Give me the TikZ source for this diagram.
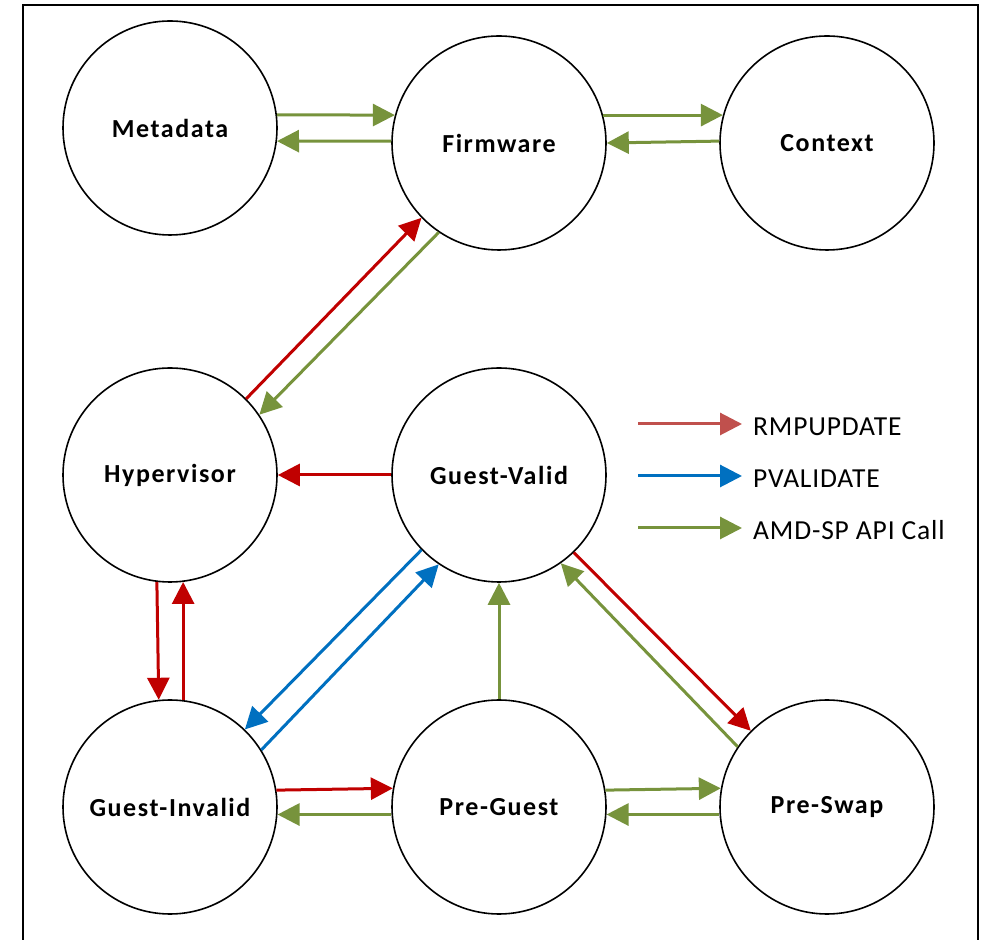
\documentclass[tikz,border=0pt]{standalone}
\usepackage{fontspec}
\setmainfont{Carlito}
\newfontfamily\statefont[LetterSpace=6]{Carlito}
\newfontfamily\legendfont[LetterSpace=3]{Carlito}
\usetikzlibrary{arrows.meta}
\definecolor{edgered}{HTML}{C00000}
\definecolor{legendred}{HTML}{C0504D}
\definecolor{apigreen}{HTML}{77933C}
\definecolor{pvblue}{HTML}{0070C0}
\begin{document}
\begin{tikzpicture}[x=1pt,y=1pt,
  state/.style={circle, draw, line width=1.6pt, minimum size=214pt, inner sep=0pt,
    font=\statefont\bfseries\fontsize{26}{30}\selectfont},
  flow/.style={line width=3pt, -{Triangle[length=22pt,width=22pt]}},
  rmp/.style={flow, color=edgered},
  rmpkey/.style={flow, color=legendred},
  pv/.style={flow, color=pvblue},
  api/.style={flow, color=apigreen},
  keytext/.style={anchor=base west, inner sep=0pt, font=\legendfont\fontsize{27.5}{32}\selectfont}
]
\useasboundingbox (0,0) rectangle (984,939);
% frame
\draw[line width=2pt] (23,-10) -- (23,934) -- (978,934) -- (978,-10);

% states
\node[state] (meta) at (170,811) {Metadata};
\node[state] (fw)   at (499,796) {Firmware};
\node[state] (ctx)  at (827,796) {Context};
\node[state] (hyp)  at (170,464) {Hypervisor};
\node[state] (gv)   at (499,464) {Guest-Valid};
\node[state] (gi)   at (170,132) {Guest-Invalid};
\node[state] (pg)   at (499,132) {Pre-Guest};
\node[state] (ps)   at (827,132) {Pre-Swap};

% top row
\draw[api] (meta.7) -- (fw.165);
\draw[api] (fw.179.5) -- (meta.-7.5);
\draw[api] (fw.15) -- (ctx.165);
\draw[api] (ctx.179.5) -- (fw.0.5);

% hypervisor and firmware
\draw[rmp] (hyp.45) -- (fw.224.5);
\draw[api] (fw.236.2) -- (hyp.34.6);

% middle row
\draw[rmp] (gv.180) -- (hyp.0);
\draw[rmp] (hyp.263.5) -- (gi.96.5);
\draw[rmp] (gi.83) -- (hyp.277);
\draw[pv] (gv.224.8) -- (gi.46);
\draw[pv] (gi.32.3) -- (gv.236.8);
\draw[rmp] (gv.314.7) -- (ps.135);
\draw[api] (ps.146) -- (gv.305.4);
\draw[api] (pg.90) -- (gv.270);

% bottom row
\draw[rmp] (gi.9.6) -- (pg.170.4);
\draw[api] (pg.184.2) -- (gi.-4.2);
\draw[api] (pg.9.6) -- (ps.170.4);
\draw[api] (ps.184.2) -- (pg.-4.2);

% legend
\coordinate (k1a) at (638,515);  \coordinate (k1b) at (742,515);
\coordinate (k2a) at (638,463);  \coordinate (k2b) at (742,463);
\coordinate (k3a) at (638,411);  \coordinate (k3b) at (742,411);
\draw[rmpkey] (k1a) -- (k1b);
\draw[pv] (k2a) -- (k2b);
\draw[api] (k3a) -- (k3b);
\node[keytext] (k1) at (753,503) {RMPUPDATE};
\node[keytext] (k2) at (753,451.5) {PVALIDATE};
\node[keytext] (k3) at (753,399.7) {AMD-SP API Call};
\end{tikzpicture}
\end{document}
